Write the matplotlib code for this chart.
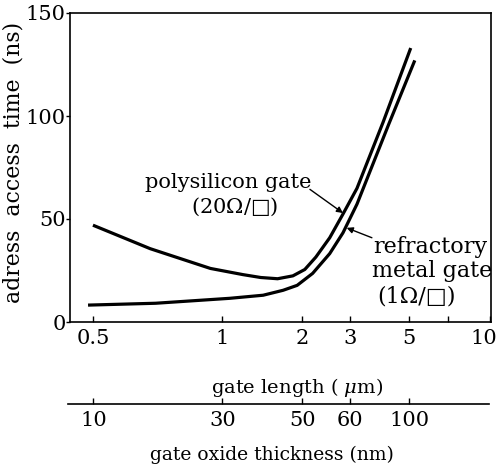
import numpy as np
import matplotlib
matplotlib.use("Agg")
import matplotlib.pyplot as plt
import matplotlib.transforms as mtransforms

plt.rcParams['font.family'] = ['DejaVu Serif', 'DejaVu Sans']
plt.rcParams['mathtext.fontset'] = 'dejavuserif'

# polysilicon gate (20 ohm/sq)
gate_poly = [0.5, 0.68, 0.94, 1.2, 1.4, 1.62, 1.85, 2.05, 2.25, 2.53, 2.83, 3.19, 4.0, 5.08]
time_poly = [47, 35.6, 26, 23.0, 21.6, 21.0, 22.4, 25.5, 31.5, 40.9, 52.4, 64.9, 97, 133]

# refractory metal gate (1 ohm/sq)
gate_metal = [0.487, 0.7, 1.07, 1.43, 1.70, 1.92, 2.19, 2.53, 2.83, 3.19, 4.2, 5.26]
time_metal = [8.2, 9.1, 11.5, 13, 15.4, 17.8, 23.6, 33.2, 43.3, 57.2, 96, 127]

gate_ticks = [0.5, 1, 2, 3, 5, 10]
gate_minor = [7]
time_ticks = [0, 50, 100, 150]
oxide_ticks = [10, 30, 50, 60, 100]
oxide_at_gate = [0.5, 1, 2, 3, 5]   # where each oxide value sits on the gate length axis

# the printed gate length axis is not a clean log scale: piecewise log between ticks
knot_gate = np.log10([0.25, 0.5, 1, 2, 3, 5, 10, 20])
knot_pos = np.array([-36, 93, 222, 302, 350, 409, 490, 756], dtype=float)


def forward(x):
    x = np.asarray(x, dtype=float)
    return np.interp(np.log10(np.clip(x, 1e-6, None)), knot_gate, knot_pos)


def inverse(p):
    return 10 ** np.interp(np.asarray(p, dtype=float), knot_pos, knot_gate)


W, H = 500, 471
FS = 15
fig = plt.figure(figsize=(W / 100, H / 100), dpi=100)
ax = fig.add_axes([70 / W, 1 - 322 / H, 421 / W, 309 / H])

ax.plot(gate_poly, time_poly, color='black', lw=2.3, solid_capstyle='butt')
ax.plot(gate_metal, time_metal, color='black', lw=2.3, solid_capstyle='butt')

ax.set_xscale('function', functions=(forward, inverse))
ax.set_xlim(0.442, 10.03)
ax.set_ylim(0, 150)

ax.set_xticks(gate_ticks)
ax.set_xticklabels(['0.5', '1', '2', '3', '5', '10'])
ax.set_xticks(gate_minor, minor=True)
ax.set_yticks(time_ticks)
ax.tick_params(axis='x', which='both', direction='in', length=4, width=1, pad=5, labelsize=FS)
ax.tick_params(axis='y', direction='out', length=3, width=1, pad=0, labelsize=FS)
for s in ax.spines.values():
    s.set_linewidth(1.2)

# the last label sits on the figure edge; pull it in a touch
last = ax.get_xticklabels()[-1]
last.set_horizontalalignment('right')
last.set_transform(last.get_transform() + mtransforms.ScaledTranslation(7 / 100, 0, fig.dpi_scale_trans))

ax.set_ylabel('adress  access  time  (ns)', fontsize=15.8)
ax.yaxis.set_label_coords(-0.107, 0.515)
ax.set_xlabel('gate length ( $\\mu$m)', fontsize=14)
ax.xaxis.set_label_coords(0.54, -0.175)

# curve labels
ax.text(0.375, 0.45, 'polysilicon gate', transform=ax.transAxes, ha='center', va='center', fontsize=FS)
ax.text(0.39, 0.372, '(20$\\mathit{\\Omega}$/□)', transform=ax.transAxes, ha='center', va='center', fontsize=FS)
ax.text(0.72, 0.243, 'refractory', transform=ax.transAxes, ha='left', va='center', fontsize=16)
ax.text(0.717, 0.165, 'metal gate', transform=ax.transAxes, ha='left', va='center', fontsize=16)
ax.text(0.729, 0.084, '(1Ω/□)', transform=ax.transAxes, ha='left', va='center', fontsize=16)

arrow = dict(arrowstyle='-|>', color='black', lw=1.0, mutation_scale=9, shrinkA=0, shrinkB=0)
ax.annotate('', xy=(2.83, 52.9), xytext=(2.14, 64.4), arrowprops=arrow)
ax.annotate('', xy=(2.92, 45.7), xytext=(3.63, 40.9), arrowprops=arrow)

# second scale: gate oxide thickness
ax2 = fig.add_axes([68 / W, 1 - 404 / H, 421 / W, 0.0001])
ax2.set_xscale('function', functions=(forward, inverse))
ax2.set_xlim(0.436, 9.9)
ax2.set_yticks([])
for side in ['top', 'left', 'right']:
    ax2.spines[side].set_visible(False)
ax2.spines['bottom'].set_linewidth(1.2)
ax2.set_xticks(oxide_at_gate)
ax2.set_xticklabels([str(v) for v in oxide_ticks])
ax2.set_xticks([], minor=True)
ax2.tick_params(axis='x', direction='in', length=4, width=1, pad=5, labelsize=FS)
fig.text(272 / W, 1 - 455 / H, 'gate oxide thickness (nm)', ha='center', va='center', fontsize=13.5)

fig.savefig('out.png', dpi=100)
